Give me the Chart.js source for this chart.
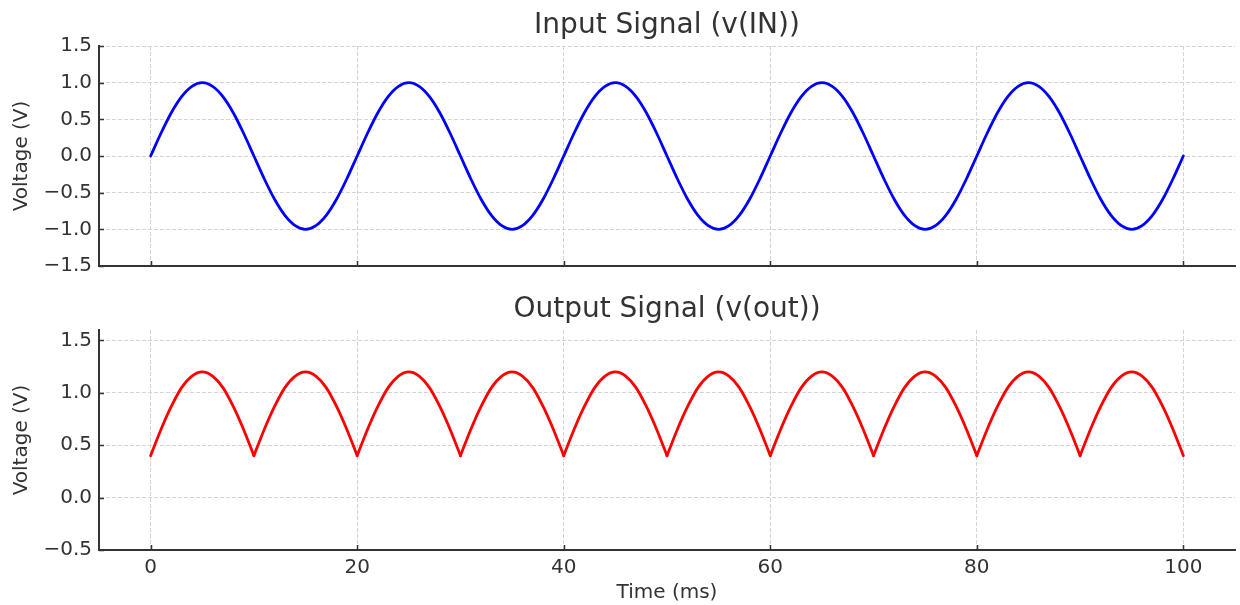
<!DOCTYPE html>
<html lang="en">
<head>
    <meta charset="UTF-8">
    <title>Input / Output Signal</title>
    <script src="https://cdn.jsdelivr.net/npm/chart.js"></script>
    <style>
        body { margin: 0; background: #fff; }
        canvas { display: block; }
    </style>
</head>
<body>
<canvas id="inChart" width="1240" height="290"></canvas>
<canvas id="outChart" width="1240" height="315"></canvas>

<script>
    // time axis (ms) and the two traces, every 1 ms
    const timeMs = [
        0, 1, 2, 3, 4, 5, 6, 7, 8, 9, 10, 11, 12, 13, 14, 15, 16, 17, 18, 19,
        20, 21, 22, 23, 24, 25, 26, 27, 28, 29, 30, 31, 32, 33, 34, 35, 36, 37, 38, 39,
        40, 41, 42, 43, 44, 45, 46, 47, 48, 49, 50, 51, 52, 53, 54, 55, 56, 57, 58, 59,
        60, 61, 62, 63, 64, 65, 66, 67, 68, 69, 70, 71, 72, 73, 74, 75, 76, 77, 78, 79,
        80, 81, 82, 83, 84, 85, 86, 87, 88, 89, 90, 91, 92, 93, 94, 95, 96, 97, 98, 99,
        100
    ];
    const vIn = [
        0, 0.31, 0.59, 0.81, 0.95, 1, 0.95, 0.81, 0.59, 0.31, 0, -0.31, -0.59, -0.81, -0.95, -1, -0.95, -0.81, -0.59, -0.31,
        0, 0.31, 0.59, 0.81, 0.95, 1, 0.95, 0.81, 0.59, 0.31, 0, -0.31, -0.59, -0.81, -0.95, -1, -0.95, -0.81, -0.59, -0.31,
        0, 0.31, 0.59, 0.81, 0.95, 1, 0.95, 0.81, 0.59, 0.31, 0, -0.31, -0.59, -0.81, -0.95, -1, -0.95, -0.81, -0.59, -0.31,
        0, 0.31, 0.59, 0.81, 0.95, 1, 0.95, 0.81, 0.59, 0.31, 0, -0.31, -0.59, -0.81, -0.95, -1, -0.95, -0.81, -0.59, -0.31,
        0, 0.31, 0.59, 0.81, 0.95, 1, 0.95, 0.81, 0.59, 0.31, 0, -0.31, -0.59, -0.81, -0.95, -1, -0.95, -0.81, -0.59, -0.31,
        0
    ];
    const vOut = [
        0.4, 0.65, 0.87, 1.05, 1.16, 1.2, 1.16, 1.05, 0.87, 0.65, 0.4, 0.65, 0.87, 1.05, 1.16, 1.2, 1.16, 1.05, 0.87, 0.65,
        0.4, 0.65, 0.87, 1.05, 1.16, 1.2, 1.16, 1.05, 0.87, 0.65, 0.4, 0.65, 0.87, 1.05, 1.16, 1.2, 1.16, 1.05, 0.87, 0.65,
        0.4, 0.65, 0.87, 1.05, 1.16, 1.2, 1.16, 1.05, 0.87, 0.65, 0.4, 0.65, 0.87, 1.05, 1.16, 1.2, 1.16, 1.05, 0.87, 0.65,
        0.4, 0.65, 0.87, 1.05, 1.16, 1.2, 1.16, 1.05, 0.87, 0.65, 0.4, 0.65, 0.87, 1.05, 1.16, 1.2, 1.16, 1.05, 0.87, 0.65,
        0.4, 0.65, 0.87, 1.05, 1.16, 1.2, 1.16, 1.05, 0.87, 0.65, 0.4, 0.65, 0.87, 1.05, 1.16, 1.2, 1.16, 1.05, 0.87, 0.65,
        0.4
    ];

    // tick labels
    const xTicks = [0, 20, 40, 60, 80, 100];
    const yTicksIn = [-1.5, -1.0, -0.5, 0.0, 0.5, 1.0, 1.5];
    const yTicksOut = [-0.5, 0.0, 0.5, 1.0, 1.5];

    Chart.defaults.font.family = "'DejaVu Sans', sans-serif";
    Chart.defaults.color = '#333';

    const ink = '#333';
    const gridColor = '#d4d4d4';

    // matplotlib-style tick marks pointing into the plot
    const innerTicks = {
        id: 'innerTicks',
        afterDraw(chart) {
            const { ctx, chartArea, scales } = chart;
            ctx.save();
            ctx.strokeStyle = ink;
            ctx.lineWidth = 1.5;
            ctx.beginPath();
            scales.x.ticks.forEach(t => {
                const px = Math.round(scales.x.getPixelForValue(t.value)) + 0.5;
                ctx.moveTo(px, chartArea.bottom);
                ctx.lineTo(px, chartArea.bottom - 5);
            });
            scales.y.ticks.forEach(t => {
                const py = Math.round(scales.y.getPixelForValue(t.value)) + 0.5;
                ctx.moveTo(chartArea.left, py);
                ctx.lineTo(chartArea.left + 5, py);
            });
            ctx.stroke();
            ctx.restore();
        }
    };

    const fmt = v => v.toFixed(1).replace('-', '\u2212');

    // cut a trace into pieces at its sharp minima so the smoothing keeps the cusps
    function pieces(values) {
        const out = [];
        let cur = [];
        values.forEach((v, i) => {
            cur.push({ x: timeMs[i], y: v });
            const isCusp = i > 0 && i < values.length - 1 && v < values[i - 1] && v < values[i + 1];
            if (isCusp) {
                out.push(cur);
                cur = [{ x: timeMs[i], y: v }];
            }
        });
        out.push(cur);
        return out;
    }

    function makeChart(id, opts) {
        const parts = opts.split ? pieces(opts.values) : [timeMs.map((t, i) => ({ x: t, y: opts.values[i] }))];
        return new Chart(document.getElementById(id), {
            type: 'line',
            data: {
                datasets: parts.map(p => ({
                    data: p,
                    borderColor: opts.color,
                    borderWidth: 2.8,
                    pointRadius: 0,
                    cubicInterpolationMode: 'monotone',
                    borderCapStyle: 'round',
                    fill: false
                }))
            },
            options: {
                responsive: false,
                animation: false,
                layout: { padding: { left: 0, right: 5, top: 0, bottom: 0 } },
                plugins: {
                    legend: { display: false },
                    tooltip: { enabled: false },
                    title: {
                        display: true,
                        fullSize: false,
                        text: opts.title,
                        color: ink,
                        font: { size: 28, weight: 'normal' },
                        padding: opts.titlePad
                    }
                },
                scales: {
                    x: {
                        type: 'linear',
                        min: -5,
                        max: 105,
                        afterBuildTicks: s => { s.ticks = xTicks.map(v => ({ value: v })); },
                        afterFit: s => { s.height = opts.xHeight; },
                        grid: { color: gridColor, lineWidth: 1, drawTicks: false },
                        border: { display: true, color: ink, width: 2, dash: [4, 2] },
                        ticks: {
                            display: opts.showX,
                            padding: 6,
                            color: ink,
                            font: { size: 20 },
                            maxRotation: 0
                        },
                        title: {
                            display: opts.showX,
                            text: 'Time (ms)',
                            color: ink,
                            font: { size: 20 },
                            padding: { top: 0, bottom: 0 }
                        }
                    },
                    y: {
                        min: opts.yMin,
                        max: opts.yMax,
                        afterBuildTicks: s => { s.ticks = opts.yTicks.map(v => ({ value: v })); },
                        afterFit: s => { s.width = 99; },
                        grid: { color: gridColor, lineWidth: 1, drawTicks: false },
                        border: { display: true, color: ink, width: 2, dash: [4, 2] },
                        ticks: {
                            padding: 7,
                            color: ink,
                            font: { size: 20 },
                            callback: v => fmt(v)
                        },
                        title: {
                            display: true,
                            text: 'Voltage (V)',
                            color: ink,
                            font: { size: 20 },
                            padding: { top: 10, bottom: 0 }
                        }
                    }
                }
            },
            plugins: [innerTicks]
        });
    }

    makeChart('inChart', {
        title: 'Input Signal (v(IN))',
        values: vIn,
        color: '#0000ff',
        split: false,
        yMin: -1.5,
        yMax: 1.5,
        yTicks: yTicksIn,
        showX: false,
        xHeight: 24,
        titlePad: { top: 8.5, bottom: 3.9 }
    });

    makeChart('outChart', {
        title: 'Output Signal (v(out))',
        values: vOut,
        color: '#ff0000',
        split: true,
        yMin: -0.5,
        yMax: 1.6,
        yTicks: yTicksOut,
        showX: true,
        xHeight: 55,
        titlePad: { top: 2.5, bottom: 3.9 }
    });
</script>
</body>
</html>
